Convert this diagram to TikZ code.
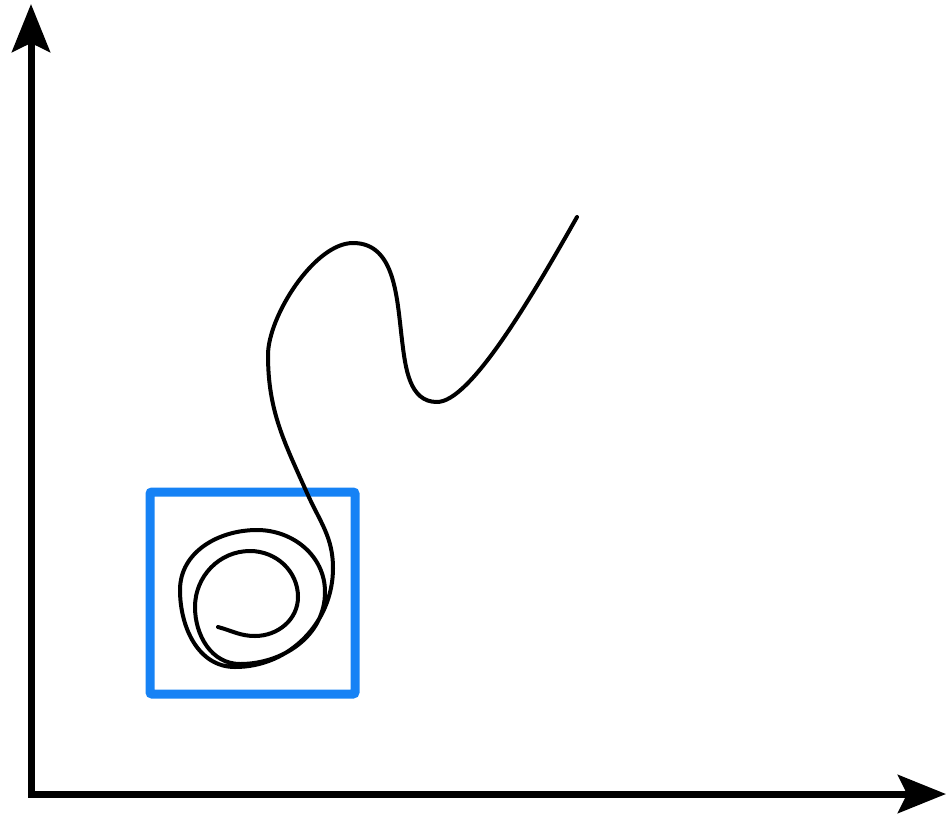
\documentclass[tikz,border=0pt]{standalone}
\usetikzlibrary{arrows.meta}
\definecolor{boxblue}{RGB}{22,130,245}
\begin{document}
\begin{tikzpicture}[
        x=1pt, y=-1pt,
        axis/.style={line width=7pt, line join=miter,
            {Stealth[length=48pt, width=38pt, inset=9pt]}-{Stealth[length=48pt, width=38pt, inset=9pt]}},
        trajectory/.style={line width=4pt, line cap=round, line join=round},
        focusbox/.style={draw=boxblue, line width=9pt, rounded corners=2pt}
    ]
    \useasboundingbox (0,0) rectangle (949,816);

    % Axes
    \draw[axis] (31,4) -- (31,794) -- (946,794);

    % Highlighted region
    \draw[focusbox] (150,492) rectangle (355,694);

    % Trajectory: wandering part
    \draw[trajectory] (577,217)
        .. controls (530,300) and (470,402) .. (437,402)
        to[out=-180, in=-83]  (402,340)
        to[out=-263, in=0]    (353,243)
        to[out=-180, in=-270, looseness=0.7] (268,355)
        to[out=-90,  in=-246] (307,493)
        to[out=-66,  in=-270] (333,568)
    % winding into the region
        to[out=-90,  in=0]    (235,667)
        to[out=-180, in=-90]  (180,590)
        to[out=-270, in=-180] (257,530)
        to[out=0,    in=-270] (325,592)
        to[out=-90,  in=0]    (240,664)
        to[out=-180, in=-90]  (195,607)
        to[out=-270, in=-180] (250,551)
        to[out=0,    in=-270] (298,597)
        to[out=-90,  in=0]    (255,636)
        to[out=-180, in=-15]  (218,627);

\end{tikzpicture}
\end{document}
